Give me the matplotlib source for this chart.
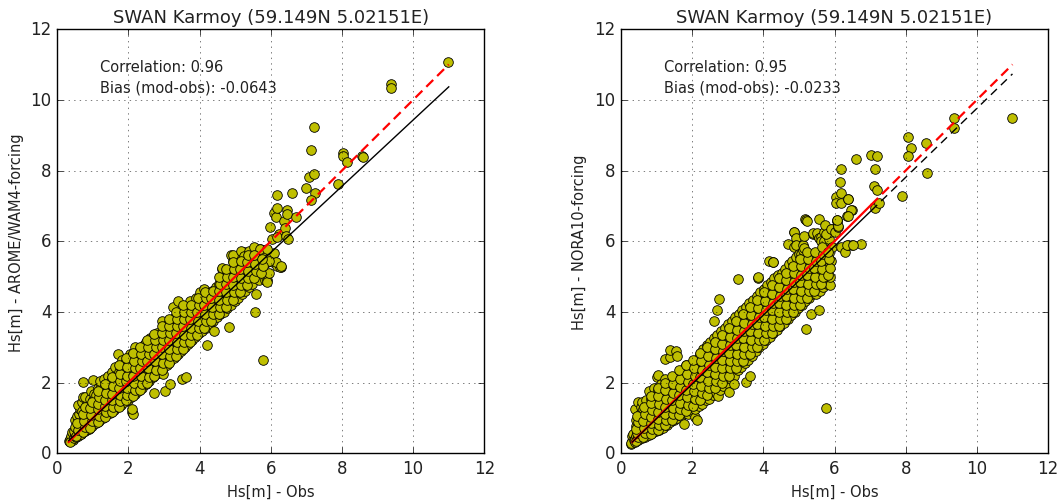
import numpy as np
import matplotlib
matplotlib.use("Agg")
import matplotlib.pyplot as plt

plt.style.use("classic")

title = "SWAN Karmoy (59.149N 5.02151E)"
xlabel = "Hs[m] - Obs"
ylabel_a = "Hs[m] - AROME/WAM4-forcing"
ylabel_b = "Hs[m] - NORA10-forcing"
corr_a, bias_a = 0.96, -0.0643
corr_b, bias_b = 0.95, -0.0233

# regression fits (slope, intercept) and where the solid part of the lines stops
fit_a = [0.937, 0.06]
fit_b = [0.975, 0.008]
line_start = 0.32
line_end = 11.0
solid_end_a = 5.8
solid_end_b = 7.03

# AROME/WAM4 run: observed vs modelled Hs (edges of the cloud and outliers)
obs_a = [
    0.34, 0.37, 0.40, 0.43, 0.45, 0.38, 0.42, 0.36,
    0.48, 0.50, 0.52, 0.55, 0.50, 0.47, 0.53, 0.56, 0.51,
    0.58, 0.60, 0.62, 0.65, 0.60, 0.63, 0.59, 0.66,
    0.68, 0.70, 0.72, 0.74, 0.70, 0.69, 0.73, 0.71,
    0.78, 0.80, 0.82, 0.85, 0.80, 0.83, 0.79, 0.86,
    0.88, 0.90, 0.93, 0.95, 0.90, 0.92, 0.96,
    0.98, 1.00, 1.02, 1.05, 1.00, 1.04, 0.99, 1.03,
    1.08, 1.10, 1.12, 1.15, 1.10, 1.13,
    1.18, 1.20, 1.22, 1.25, 1.20, 1.23, 1.19,
    1.28, 1.30, 1.33, 1.35, 1.30, 1.32,
    1.38, 1.40, 1.42, 1.45, 1.40, 1.43, 1.47,
    1.48, 1.50, 1.52, 1.55, 1.50, 1.53,
    1.58, 1.60, 1.62, 1.65, 1.60, 1.63, 1.67,
    1.68, 1.70, 1.72, 1.71, 1.74, 1.70,
    1.78, 1.80, 1.82, 1.85, 1.80, 1.83,
    1.88, 1.90, 1.92, 1.95, 1.90,
    1.98, 2.00, 2.02, 2.05, 2.00, 2.03, 2.09, 2.12, 2.11,
    2.08, 2.10, 2.13, 2.15, 2.10,
    2.18, 2.20, 2.22, 2.25, 2.20, 2.19,
    2.28, 2.30, 2.33, 2.35, 2.30,
    2.38, 2.40, 2.42, 2.45, 2.43,
    2.48, 2.50, 2.52, 2.55, 2.50,
    2.58, 2.60, 2.62, 2.65, 2.60,
    2.68, 2.70, 2.72, 2.75, 2.70, 2.72,
    2.78, 2.80, 2.82, 2.85, 2.80,
    2.88, 2.90, 2.92, 2.95, 2.93,
    2.98, 3.00, 3.03, 3.05, 3.00, 3.03, 2.98,
    3.08, 3.10, 3.12, 3.15, 3.10,
    3.18, 3.20, 3.22, 3.25, 3.17, 3.26,
    3.28, 3.30, 3.33, 3.35, 3.30,
    3.38, 3.40, 3.42, 3.45, 3.40,
    3.48, 3.50, 3.52, 3.55, 3.50, 3.62,
    3.58, 3.60, 3.62, 3.65, 3.60,
    3.68, 3.70, 3.72, 3.75, 3.74,
    3.78, 3.80, 3.82, 3.85,
    3.88, 3.90, 3.92, 3.95, 3.90,
    3.98, 4.00, 4.02, 4.05, 4.00,
    4.08, 4.10, 4.12, 4.15, 4.11,
    4.18, 4.20, 4.22, 4.25, 4.21,
    4.28, 4.30, 4.33, 4.35,
    4.38, 4.40, 4.42, 4.45, 4.40,
    4.48, 4.50, 4.52, 4.55,
    4.58, 4.60, 4.62, 4.65, 4.63,
    4.68, 4.70, 4.72, 4.75,
    4.78, 4.80, 4.82, 4.85, 4.82, 4.88,
    4.88, 4.90, 4.92, 4.95, 4.93,
    4.98, 5.00, 5.02, 5.05,
    5.08, 5.10, 5.12, 5.15, 5.12,
    5.18, 5.20, 5.23, 5.25,
    5.28, 5.30, 5.32, 5.35,
    5.38, 5.40, 5.42, 5.45, 5.40,
    5.48, 5.51, 5.52, 5.56,
    5.58, 5.60, 5.62, 5.65,
    5.68, 5.71, 5.77, 5.79,
    5.84, 5.84, 5.89, 5.89,
    5.89, 5.95, 5.96, 5.98,
    6.07, 6.17, 6.29, 6.25, 6.10, 6.15, 6.29,
    4.93, 5.17, 5.24, 5.38, 5.52, 5.71, 5.89, 5.16, 5.60, 5.84, 5.95, 4.63,
    5.98, 6.03, 6.08, 6.15, 6.17, 6.17, 6.24, 6.17, 6.36, 6.39, 6.42, 6.48,
    6.46, 6.46, 6.60, 6.71, 7.00, 7.08, 7.20, 7.24, 7.12, 7.12, 7.20, 7.88,
    8.04, 8.04, 8.13, 8.56, 8.60, 9.37, 9.37, 10.99,
]
mod_a = [
    0.36, 0.40, 0.44, 0.38, 0.52, 0.48, 0.60, 0.33,
    0.42, 0.55, 0.68, 0.80, 0.95, 0.62, 0.47, 1.05, 0.74,
    0.48, 0.60, 0.75, 0.90, 1.10, 1.25, 1.38, 0.55,
    0.55, 0.68, 0.82, 1.00, 1.20, 1.45, 1.60, 2.03,
    0.62, 0.75, 0.90, 1.05, 1.25, 1.40, 1.60, 0.70,
    0.70, 0.85, 1.00, 1.20, 1.35, 1.55, 1.75,
    0.78, 0.92, 1.10, 1.30, 1.50, 1.68, 2.08, 0.85,
    0.85, 1.00, 1.20, 1.45, 1.65, 1.85,
    0.92, 1.10, 1.30, 1.50, 1.70, 1.90, 2.05,
    1.00, 1.20, 1.40, 1.60, 1.85, 2.10,
    1.08, 1.25, 1.45, 1.65, 1.90, 2.20, 1.55,
    1.15, 1.35, 1.55, 1.80, 2.05, 2.30,
    1.22, 1.42, 1.65, 1.90, 2.15, 2.45, 1.75,
    1.30, 1.50, 1.75, 2.00, 2.30, 2.82,
    1.38, 1.60, 1.85, 2.10, 2.40, 2.65,
    1.45, 1.70, 1.95, 2.25, 2.55,
    1.52, 1.80, 2.05, 2.30, 2.60, 2.80, 1.16, 1.11, 1.25,
    1.60, 1.90, 2.15, 2.45, 2.75,
    1.68, 1.95, 2.25, 2.55, 2.85, 3.00,
    1.75, 2.05, 2.35, 2.60, 2.90,
    1.85, 2.15, 2.45, 2.75, 3.05,
    1.95, 2.25, 2.55, 2.85, 3.15,
    2.05, 2.35, 2.65, 2.95, 3.25,
    2.15, 2.45, 2.75, 3.05, 3.30, 1.72,
    2.25, 2.55, 2.85, 3.15, 3.40,
    2.30, 2.65, 2.95, 3.25, 3.75,
    2.40, 2.70, 3.00, 3.30, 3.55, 1.77, 2.24,
    2.50, 2.80, 3.10, 3.40, 3.65,
    2.60, 2.90, 3.20, 3.50, 1.95, 4.13,
    2.70, 3.00, 3.30, 3.60, 3.85,
    2.80, 3.10, 3.40, 3.70, 4.32,
    2.90, 3.20, 3.50, 3.80, 2.10, 2.15,
    3.00, 3.30, 3.60, 3.90, 4.10,
    3.10, 3.40, 3.70, 4.00, 4.30,
    3.20, 3.50, 3.80, 4.10,
    3.30, 3.60, 3.90, 4.20, 4.40,
    3.40, 3.70, 4.00, 4.30, 4.55,
    3.45, 3.80, 4.10, 4.40, 4.65,
    3.55, 3.90, 4.20, 4.50, 3.05,
    3.65, 4.00, 4.30, 4.60,
    3.75, 4.10, 4.40, 4.70, 3.45,
    3.85, 4.20, 4.50, 4.80,
    3.95, 4.30, 4.60, 4.90, 5.20,
    4.00, 4.40, 4.70, 5.00,
    4.10, 4.45, 4.80, 5.10, 3.56, 5.61,
    4.20, 4.55, 4.85, 5.20, 5.45,
    4.30, 4.65, 4.95, 5.30,
    4.40, 4.75, 5.05, 5.36, 5.60,
    4.50, 4.85, 5.15, 5.69,
    4.60, 4.95, 5.25, 5.50,
    4.70, 5.00, 5.30, 5.55, 5.42,
    4.80, 5.73, 5.40, 3.99,
    4.50, 5.00, 5.30, 5.45,
    4.90, 5.78, 2.64, 5.69,
    4.89, 5.37, 4.91, 5.41,
    4.84, 5.45, 5.10, 5.55,
    5.41, 5.31, 5.26, 5.26, 5.66, 5.42, 5.31,
    5.61, 5.71, 5.59, 5.71, 5.85, 5.78, 5.78, 5.38, 5.45, 5.37, 5.45, 5.24,
    6.41, 6.05, 6.81, 6.69, 6.94, 7.32, 6.21, 6.12, 6.58, 6.36, 6.15, 6.06,
    6.88, 6.78, 7.37, 6.68, 7.51, 7.81, 7.89, 7.36, 7.18, 8.59, 9.23, 7.62,
    8.50, 8.42, 8.25, 8.42, 8.38, 10.45, 10.33, 11.08,
]

# AROME/WAM4 run: points filling the dense core of the cloud
obs_a_core = [
    0.53, 0.57, 0.55,
    0.73, 0.77, 0.75, 0.73, 0.77,
    0.93, 0.97, 0.95, 0.93, 0.97,
    1.13, 1.17, 1.15, 1.13, 1.17, 1.15,
    1.33, 1.37, 1.35, 1.33, 1.37, 1.35,
    1.53, 1.57, 1.55, 1.53, 1.57, 1.55,
    1.73, 1.77, 1.75, 1.73, 1.77, 1.75, 1.73,
    1.93, 1.97, 1.95, 1.93, 1.97, 1.95, 1.93,
    2.13, 2.17, 2.15, 2.13, 2.17, 2.15, 2.13,
    2.33, 2.37, 2.35, 2.33, 2.37, 2.35, 2.33,
    2.53, 2.57, 2.55, 2.53, 2.57, 2.55, 2.53,
    2.73, 2.77, 2.75, 2.73, 2.77, 2.75, 2.73,
    2.93, 2.97, 2.95, 2.93, 2.97, 2.95, 2.93,
    3.13, 3.17, 3.15, 3.13, 3.17, 3.15, 3.13,
    3.33, 3.37, 3.35, 3.33, 3.37, 3.35, 3.33,
    3.53, 3.57, 3.55, 3.53, 3.57, 3.55, 3.53,
    3.73, 3.77, 3.75, 3.73, 3.77, 3.75,
    3.93, 3.97, 3.95, 3.93, 3.97, 3.95,
    4.13, 4.17, 4.15, 4.13, 4.17, 4.15,
    4.33, 4.37, 4.35, 4.33, 4.37,
    4.53, 4.57, 4.55, 4.53, 4.57, 4.55,
    4.73, 4.77, 4.75, 4.73, 4.77, 4.75,
    4.93, 4.97, 4.95, 4.93, 4.97, 4.95,
    5.13, 5.17, 5.15, 5.13, 5.17,
    5.33, 5.37, 5.35, 5.33, 5.37,
    5.53, 5.57, 5.55, 5.53,
    5.73, 5.77, 5.75,
]
mod_a_core = [
    0.50, 0.65, 0.85,
    0.60, 0.75, 0.92, 1.12, 1.32,
    0.72, 0.90, 1.08, 1.28, 1.45,
    0.88, 1.05, 1.25, 1.40, 1.58, 1.75,
    1.02, 1.18, 1.35, 1.52, 1.72, 1.95,
    1.18, 1.32, 1.50, 1.68, 1.90, 2.15,
    1.32, 1.48, 1.65, 1.85, 2.05, 2.25, 2.50,
    1.50, 1.65, 1.85, 2.05, 2.20, 2.45, 2.70,
    1.62, 1.78, 2.00, 2.20, 2.40, 2.60, 2.85,
    1.80, 1.95, 2.20, 2.40, 2.60, 2.80, 3.00,
    2.00, 2.15, 2.40, 2.60, 2.80, 3.00, 3.20,
    2.18, 2.35, 2.60, 2.80, 3.00, 3.20, 3.38,
    2.35, 2.55, 2.80, 3.00, 3.20, 3.40, 3.60,
    2.55, 2.75, 2.95, 3.20, 3.40, 3.60, 3.80,
    2.75, 2.95, 3.15, 3.40, 3.60, 3.80, 4.00,
    2.95, 3.15, 3.35, 3.60, 3.80, 4.00, 4.20,
    3.15, 3.35, 3.55, 3.80, 4.00, 4.20,
    3.35, 3.55, 3.75, 4.00, 4.20, 4.40,
    3.55, 3.75, 3.95, 4.20, 4.40, 4.55,
    3.75, 3.95, 4.15, 4.40, 4.60,
    3.95, 4.15, 4.35, 4.60, 4.80, 5.00,
    4.15, 4.35, 4.55, 4.80, 5.00, 5.20,
    4.35, 4.55, 4.75, 5.00, 5.20, 5.40,
    4.55, 4.75, 4.95, 5.20, 5.45,
    4.75, 4.95, 5.15, 5.40, 5.60,
    4.95, 5.15, 5.35, 5.60,
    5.10, 5.30, 5.50,
]

# NORA10 run: observed vs modelled Hs (edges of the cloud and outliers)
obs_b = [
    0.28, 0.30, 0.32, 0.34, 0.31, 0.29, 0.33, 0.36,
    0.38, 0.40, 0.42, 0.44, 0.41, 0.43, 0.39,
    0.48, 0.50, 0.52, 0.54, 0.51, 0.53, 0.49, 0.55,
    0.58, 0.60, 0.62, 0.64, 0.61, 0.63, 0.59,
    0.68, 0.70, 0.72, 0.74, 0.71, 0.73, 0.69,
    0.78, 0.80, 0.82, 0.84, 0.81, 0.83, 0.79,
    0.88, 0.90, 0.92, 0.94, 0.91, 0.93,
    0.98, 1.00, 1.02, 1.04, 1.01, 1.03, 1.00, 1.05,
    1.08, 1.10, 1.12, 1.14, 1.11, 1.13,
    1.18, 1.20, 1.22, 1.25, 1.21, 1.23,
    1.28, 1.30, 1.32, 1.34, 1.25, 1.31,
    1.38, 1.40, 1.42, 1.41, 1.38, 1.39, 1.44,
    1.48, 1.50, 1.52, 1.50, 1.55, 1.53,
    1.58, 1.60, 1.62, 1.64, 1.61, 1.57,
    1.68, 1.70, 1.72, 1.74, 1.71,
    1.77, 1.80, 1.82, 1.84, 1.81, 1.83,
    1.88, 1.90, 1.92, 1.94, 1.91,
    1.98, 2.00, 2.02, 2.04, 2.01, 2.08, 2.13,
    2.08, 2.10, 2.12, 2.14, 2.11,
    2.18, 2.20, 2.22, 2.24, 2.21,
    2.28, 2.30, 2.32, 2.34, 2.31,
    2.38, 2.40, 2.42, 2.44, 2.41,
    2.48, 2.50, 2.52, 2.54, 2.51,
    2.58, 2.60, 2.62, 2.64, 2.61, 2.60,
    2.68, 2.70, 2.72, 2.74, 2.71, 2.72, 2.69, 2.74,
    2.78, 2.80, 2.82, 2.84, 2.81,
    2.88, 2.90, 2.92, 2.94, 2.91,
    2.98, 3.00, 3.02, 3.04, 3.01, 3.04,
    3.08, 3.10, 3.12, 3.14, 3.11,
    3.18, 3.20, 3.22, 3.24, 3.21, 3.18,
    3.28, 3.30, 3.32, 3.34, 3.31, 3.28,
    3.38, 3.40, 3.42, 3.44, 3.41,
    3.48, 3.50, 3.52, 3.54, 3.51, 3.51,
    3.58, 3.60, 3.62, 3.64, 3.61, 3.63,
    3.68, 3.70, 3.72, 3.74, 3.71,
    3.78, 3.80, 3.82, 3.84, 3.81, 3.84,
    3.88, 3.90, 3.92, 3.94, 3.91, 3.86,
    3.98, 4.00, 4.02, 4.04, 4.01,
    4.08, 4.10, 4.12, 4.14, 4.11,
    4.18, 4.20, 4.22, 4.24, 4.21, 4.17, 4.26, 4.28,
    4.28, 4.30, 4.32, 4.34, 4.31,
    4.38, 4.40, 4.42, 4.44, 4.41,
    4.48, 4.50, 4.52, 4.54, 4.51,
    4.58, 4.60, 4.62, 4.64, 4.61,
    4.68, 4.70, 4.72, 4.74, 4.71, 4.70,
    4.78, 4.80, 4.82, 4.84, 4.81, 4.86, 4.87, 4.85,
    4.88, 4.90, 4.92, 4.94, 4.91, 4.91, 4.93,
    4.98, 5.00, 5.02, 5.04, 5.01, 5.06,
    5.08, 5.10, 5.12, 5.14, 5.11, 5.12, 5.15, 5.14,
    5.18, 5.20, 5.22, 5.24, 5.20, 5.17, 5.19, 5.22, 5.25,
    5.28, 5.30, 5.32, 5.34, 5.34,
    5.38, 5.40, 5.42, 5.34, 5.40, 5.39,
    5.48, 5.50, 5.52, 5.55, 5.53, 5.56, 5.52,
    5.58, 5.60, 5.62, 5.63, 5.57, 5.62, 5.63,
    5.68, 5.70, 5.71, 5.73, 5.75, 5.73, 5.71, 5.76,
    5.78, 5.80, 5.83, 5.87, 5.84, 5.85, 5.87, 5.76,
    5.88, 5.90, 5.92, 5.92, 5.89,
    6.01, 6.04, 6.07, 6.09, 6.06, 6.11, 6.03,
    6.15, 6.18, 6.18, 6.19, 6.37, 6.38, 6.48, 6.46, 6.36, 6.38, 6.18, 6.29,
    6.38, 6.49, 6.73, 6.60, 7.03, 7.20, 7.14, 7.10, 7.20, 7.14, 7.25, 7.90,
    8.06, 8.14, 8.06, 8.56, 8.59, 9.37, 9.37, 11.00, 6.35, 6.51, 6.06,
]
mod_b = [
    0.27, 0.32, 0.36, 0.42, 0.48, 0.30, 0.55, 0.38,
    0.33, 0.40, 0.50, 0.62, 0.78, 0.95, 1.25,
    0.38, 0.48, 0.60, 0.75, 0.92, 1.10, 1.44, 1.30,
    0.42, 0.55, 0.70, 0.88, 1.05, 1.25, 1.45,
    0.47, 0.60, 0.78, 0.98, 1.18, 1.38, 1.50,
    0.52, 0.68, 0.88, 1.08, 1.30, 1.55, 1.75,
    0.57, 0.75, 0.98, 1.20, 1.45, 1.85,
    0.62, 0.82, 1.05, 1.30, 1.55, 1.80, 2.15, 2.22,
    0.67, 0.90, 1.12, 1.40, 1.65, 1.95,
    0.72, 0.95, 1.20, 1.48, 1.78, 2.10,
    0.80, 1.02, 1.28, 1.55, 2.67, 1.90,
    0.88, 1.10, 1.35, 1.65, 2.72, 2.93, 2.05,
    0.95, 1.20, 1.45, 1.75, 2.90, 2.10,
    1.00, 1.28, 1.55, 1.85, 2.20, 2.76,
    1.05, 1.35, 1.62, 1.95, 2.35,
    0.83, 1.15, 1.45, 1.75, 2.05, 2.50,
    1.10, 1.40, 1.70, 2.00, 2.45,
    1.20, 1.50, 1.80, 2.10, 2.55, 1.02, 0.95,
    1.25, 1.58, 1.90, 2.25, 2.65,
    1.35, 1.68, 2.00, 2.35, 2.80,
    1.40, 1.75, 2.10, 2.45, 2.95,
    1.50, 1.85, 2.20, 2.55, 3.05,
    1.55, 1.95, 2.30, 2.70, 3.15,
    1.65, 2.05, 2.40, 2.80, 3.25, 3.73,
    1.70, 2.10, 2.50, 2.90, 3.35, 1.63, 4.04, 4.37,
    1.80, 2.20, 2.60, 3.00, 3.45,
    1.90, 2.30, 2.70, 3.10, 3.55,
    2.00, 2.40, 2.80, 3.20, 3.65, 1.73,
    2.10, 2.50, 2.90, 3.30, 3.75,
    2.20, 2.60, 3.00, 3.40, 3.85, 1.96,
    2.35, 2.70, 3.10, 3.50, 3.95, 4.93,
    2.45, 2.80, 3.20, 3.60, 4.05,
    2.55, 2.90, 3.30, 3.70, 4.15, 2.03,
    2.65, 3.00, 3.40, 3.80, 4.25, 2.20,
    2.75, 3.10, 3.50, 3.90, 4.35,
    2.90, 3.20, 3.60, 4.00, 4.45, 4.95,
    3.00, 3.30, 3.70, 4.10, 4.55, 4.98,
    3.10, 3.45, 3.80, 4.20, 4.65,
    3.20, 3.55, 3.90, 4.30, 4.75,
    3.30, 3.65, 4.00, 4.40, 4.85, 5.45, 5.42, 5.41,
    3.40, 3.75, 4.10, 4.50, 4.95,
    3.50, 3.85, 4.20, 4.60, 5.05,
    3.60, 3.95, 4.30, 4.70, 5.10,
    3.70, 4.05, 4.40, 4.80, 5.20,
    3.80, 4.15, 4.50, 4.90, 5.36, 5.92,
    3.90, 4.25, 4.60, 5.00, 5.45, 6.26, 5.85, 6.26,
    4.00, 4.35, 4.70, 5.10, 5.55, 6.09, 5.88,
    4.10, 4.45, 4.80, 5.20, 5.65, 5.64,
    4.20, 4.55, 4.90, 5.30, 5.75, 5.88, 6.14, 5.80,
    4.30, 4.65, 5.00, 5.40, 3.52, 6.63, 6.60, 6.58, 5.59,
    4.40, 4.75, 5.10, 5.50, 5.61,
    4.50, 4.85, 5.20, 3.94, 6.21, 6.24,
    4.50, 4.95, 5.30, 4.06, 6.16, 6.63, 6.23,
    4.60, 5.05, 5.40, 5.55, 6.09, 6.12, 6.00,
    4.70, 5.15, 6.26, 6.46, 5.50, 5.98, 6.00, 1.27,
    4.80, 5.25, 4.91, 4.76, 5.67, 6.07, 6.27, 6.21,
    5.00, 5.45, 6.35, 5.85, 6.35,
    6.26, 7.25, 6.58, 6.41, 6.60, 6.44, 7.08,
    7.67, 8.05, 7.37, 7.08, 7.20, 7.20, 6.89, 6.87, 6.70, 6.70, 5.83, 5.69,
    5.88, 5.88, 5.92, 8.33, 8.45, 8.42, 8.03, 7.57, 7.46, 6.93, 7.08, 7.29,
    8.94, 8.64, 8.42, 8.77, 7.93, 9.49, 9.20, 9.49, 5.88, 5.88, 6.60,
]

# NORA10 run: points filling the dense core of the cloud
obs_b_core = [
    0.43, 0.47, 0.45, 0.43, 0.47, 0.45,
    0.63, 0.67, 0.65, 0.63, 0.67, 0.65,
    0.83, 0.87, 0.85, 0.83, 0.87, 0.85, 0.83,
    1.03, 1.07, 1.05, 1.03, 1.07, 1.05, 1.03,
    1.23, 1.27, 1.25, 1.23, 1.27, 1.25, 1.23,
    1.43, 1.47, 1.45, 1.43, 1.47, 1.45, 1.43,
    1.63, 1.67, 1.65, 1.63, 1.67, 1.65, 1.63,
    1.83, 1.87, 1.85, 1.83, 1.87, 1.85, 1.83,
    2.03, 2.07, 2.05, 2.03, 2.07, 2.05, 2.03,
    2.23, 2.27, 2.25, 2.23, 2.27, 2.25, 2.23,
    2.43, 2.47, 2.45, 2.43, 2.47, 2.45, 2.43,
    2.63, 2.67, 2.65, 2.63, 2.67, 2.65, 2.63,
    2.83, 2.87, 2.85, 2.83, 2.87, 2.85, 2.83,
    3.03, 3.07, 3.05, 3.03, 3.07, 3.05, 3.03,
    3.23, 3.27, 3.25, 3.23, 3.27, 3.25, 3.23,
    3.43, 3.47, 3.45, 3.43, 3.47, 3.45, 3.43,
    3.63, 3.67, 3.65, 3.63, 3.67, 3.65, 3.63,
    3.83, 3.87, 3.85, 3.83, 3.87, 3.85, 3.83,
    4.03, 4.07, 4.05, 4.03, 4.07, 4.05, 4.03,
    4.23, 4.27, 4.25, 4.23, 4.27, 4.25, 4.23,
    4.43, 4.47, 4.45, 4.43, 4.47, 4.45, 4.43,
    4.63, 4.67, 4.65, 4.63, 4.67, 4.65, 4.63,
    4.83, 4.87, 4.85, 4.83, 4.87, 4.85, 4.83,
    5.03, 5.07, 5.05, 5.03, 5.07, 5.05, 5.03,
    5.23, 5.27, 5.25, 5.23, 5.27, 5.25, 5.23,
    5.43, 5.47, 5.45, 5.43, 5.47, 5.45,
    5.63, 5.67, 5.65, 5.63, 5.67, 5.65,
    5.83, 5.87, 5.85, 5.83,
]
mod_b_core = [
    0.36, 0.45, 0.58, 0.70, 0.88, 1.05,
    0.45, 0.58, 0.72, 0.90, 1.10, 1.30,
    0.55, 0.68, 0.85, 1.02, 1.22, 1.42, 1.62,
    0.65, 0.80, 0.98, 1.18, 1.40, 1.62, 1.85,
    0.80, 0.95, 1.12, 1.32, 1.55, 1.78, 2.00,
    0.95, 1.10, 1.28, 1.50, 1.70, 1.95, 2.20,
    1.08, 1.25, 1.42, 1.65, 1.88, 2.10, 2.35,
    1.20, 1.38, 1.58, 1.80, 2.02, 2.25, 2.50,
    1.35, 1.55, 1.75, 1.95, 2.20, 2.40, 2.65,
    1.50, 1.70, 1.90, 2.15, 2.35, 2.60, 2.85,
    1.65, 1.85, 2.05, 2.30, 2.50, 2.75, 3.00,
    1.85, 2.05, 2.25, 2.45, 2.70, 2.95, 3.15,
    2.00, 2.20, 2.40, 2.65, 2.90, 3.10, 3.35,
    2.20, 2.40, 2.60, 2.85, 3.05, 3.30, 3.55,
    2.40, 2.60, 2.80, 3.05, 3.25, 3.50, 3.75,
    2.60, 2.80, 3.00, 3.25, 3.45, 3.70, 3.95,
    2.80, 3.00, 3.20, 3.45, 3.65, 3.90, 4.15,
    3.00, 3.20, 3.40, 3.65, 3.85, 4.10, 4.35,
    3.20, 3.40, 3.60, 3.85, 4.05, 4.30, 4.55,
    3.40, 3.60, 3.80, 4.05, 4.25, 4.50, 4.75,
    3.60, 3.80, 4.00, 4.25, 4.45, 4.70, 4.95,
    3.80, 4.00, 4.20, 4.45, 4.65, 4.90, 5.10,
    4.00, 4.20, 4.40, 4.65, 4.85, 5.10, 5.30,
    4.20, 4.40, 4.60, 4.85, 5.05, 5.30, 5.50,
    4.40, 4.60, 4.80, 5.05, 5.25, 5.50, 5.70,
    4.60, 4.80, 5.00, 5.25, 5.45, 5.70,
    4.80, 5.00, 5.20, 5.45, 5.65, 5.85,
    5.05, 5.25, 5.50, 5.70,
]

fig = plt.figure(figsize=(10.61, 5.02), dpi=100, facecolor="white")
ax1 = fig.add_axes([0.054, 0.095, 0.4025, 0.845])
ax2 = fig.add_axes([0.5853, 0.095, 0.4025, 0.845])


def panel(ax, obs, mod, fit, solid_end, black_dashed, corr, bias, ylabel):
    ax.scatter(obs, mod, s=48, c="y", edgecolors="k", linewidths=0.6, zorder=2)

    xs = np.array([line_start, solid_end])
    xd = np.array([solid_end, line_end])
    # 1:1 line
    ax.plot(xs, xs, "-", color="r", lw=1.6, zorder=3)
    ax.plot(xd, xd, "--", color="r", lw=1.6, dashes=(7, 4), zorder=3)
    # regression line
    if black_dashed:
        ax.plot(xs, np.polyval(fit, xs), "-", color="k", lw=1.0, zorder=3)
        ax.plot(xd, np.polyval(fit, xd), "--", color="k", lw=1.0, dashes=(6, 4), zorder=3)
    else:
        xf = np.array([line_start, line_end])
        ax.plot(xf, np.polyval(fit, xf), "-", color="k", lw=1.0, zorder=3)

    ax.text(1.2, 10.93, "Correlation: %.2f" % corr, fontsize=10.5, va="center", color="#222222")
    ax.text(1.2, 10.36, "Bias (mod-obs): %.4f" % bias, fontsize=10.5, va="center", color="#222222")

    ax.set_xlim(0, 12)
    ax.set_ylim(0, 12)
    ax.set_xticks(range(0, 13, 2))
    ax.set_yticks(range(0, 13, 2))
    ax.grid(True, color="k", linestyle=":", linewidth=0.6, alpha=0.6)
    ax.tick_params(labelsize=12, labelcolor="#222222")
    ax.set_title(title, fontsize=13, color="#222222")
    ax.set_xlabel(xlabel, fontsize=10.5, color="#222222")
    ax.set_ylabel(ylabel, fontsize=10.5, color="#222222")


panel(ax1, obs_a + obs_a_core, mod_a + mod_a_core, fit_a, solid_end_a, False,
      corr_a, bias_a, ylabel_a)
panel(ax2, obs_b + obs_b_core, mod_b + mod_b_core, fit_b, solid_end_b, True,
      corr_b, bias_b, ylabel_b)

fig.savefig("out.png", dpi=100, facecolor="white")
